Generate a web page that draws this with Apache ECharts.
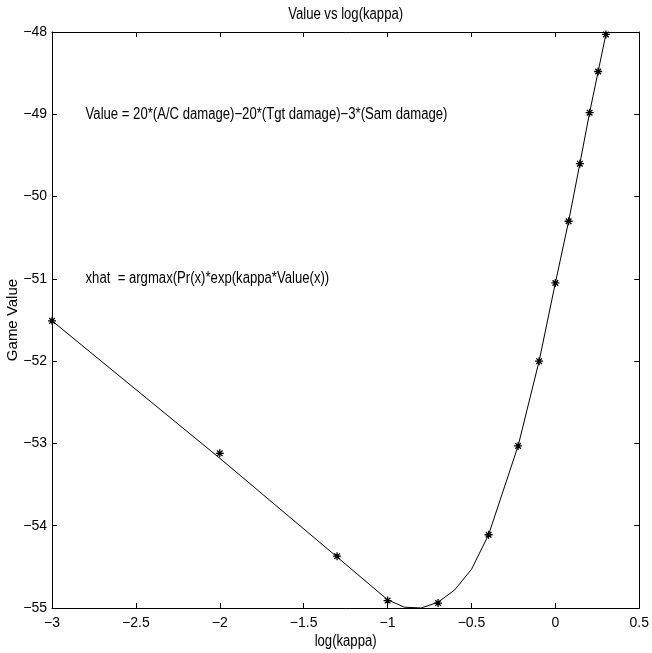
<!DOCTYPE html>
<html>
<head>
<meta charset="utf-8">
<script src="https://cdn.jsdelivr.net/npm/echarts@6/dist/echarts.min.js"></script>
<style>html,body{margin:0;padding:0;background:#fff;}#c{width:652px;height:653px;}</style>
</head>
<body>
<div id="c"></div>
<script>
// Marker points (log10(kappa), game value)
const markerX = [-3, -2, -1.301, -1, -0.699, -0.398, -0.222, -0.097, 0, 0.079, 0.146, 0.204, 0.255, 0.301];
const markerY = [-51.51, -53.12, -54.37, -54.91, -54.94, -54.11, -53.03, -52.00, -51.05, -50.30, -49.60, -48.98, -48.48, -48.03];
// Line vertices
const lineX = [-3, -2, -1.301, -1, -0.9, -0.8, -0.699, -0.6, -0.5, -0.398, -0.222, -0.097, 0, 0.079, 0.146, 0.204, 0.255, 0.301];
const lineY = [-51.51, -53.18, -54.38, -54.90, -54.99, -55.00, -54.93, -54.78, -54.53, -54.11, -53.03, -52.00, -51.05, -50.30, -49.60, -48.98, -48.48, -48.03];
const xTicks = [-3, -2.5, -2, -1.5, -1, -0.5, 0, 0.5];
const yTicks = [-55, -54, -53, -52, -51, -50, -49, -48];
const titleText = 'Value vs log(kappa)';
const xName = 'log(kappa)';
const yName = 'Game Value';
const notes = [
  {x: -2.8, y: -49, text: 'Value = 20*(A/C damage)\u221220*(Tgt damage)\u22123*(Sam damage)'},
  {x: -2.8, y: -51, text: 'xhat  = argmax(Pr(x)*exp(kappa*Value(x))'}
];

const FONT = "'Liberation Sans', Arial, sans-serif";
const NARROW = 0.82;   // emulate a condensed Helvetica
const BIG = 16;
const fmt = v => String(v).replace('-', '\u2212');

const chart = echarts.init(document.getElementById('c'), null, {renderer: 'canvas'});
const axisCommon = {
  type: 'value',
  axisLine: {show: true, onZero: false, lineStyle: {color: '#000', width: 1}},
  axisTick: {show: true, inside: true, length: 5, lineStyle: {color: '#000'}},
  splitLine: {show: false}
};
chart.setOption({
  animation: false,
  backgroundColor: '#fff',
  grid: {left: 52, right: 11, top: 32, bottom: 45, containLabel: false},
  xAxis: [
    Object.assign({}, axisCommon, {
      position: 'bottom', min: xTicks[0], max: xTicks[xTicks.length - 1], interval: 0.5,
      axisLabel: {color: '#000', fontFamily: FONT, fontSize: 14, margin: 8, formatter: fmt}
    }),
    Object.assign({}, axisCommon, {
      position: 'top', min: xTicks[0], max: xTicks[xTicks.length - 1], interval: 0.5,
      axisLabel: {show: false}
    })
  ],
  yAxis: [
    Object.assign({}, axisCommon, {
      position: 'left', min: yTicks[0], max: yTicks[yTicks.length - 1], interval: 1,
      axisLabel: {color: '#000', fontFamily: FONT, fontSize: 14, margin: 5, formatter: fmt}
    }),
    Object.assign({}, axisCommon, {
      position: 'right', min: yTicks[0], max: yTicks[yTicks.length - 1], interval: 1,
      axisLabel: {show: false}
    })
  ],
  series: [
    {
      type: 'line', xAxisIndex: 0, yAxisIndex: 0,
      data: lineX.map((x, i) => [x, lineY[i]]),
      showSymbol: false, symbol: 'none',
      lineStyle: {color: '#000', width: 1}
    },
    {
      type: 'scatter', xAxisIndex: 0, yAxisIndex: 0,
      data: markerX.map((x, i) => [x, markerY[i]]),
      symbol: 'path://M0,-10L0,10M-10,0L10,0M-7,-7L7,7M-7,7L7,-7',
      symbolSize: 8,
      itemStyle: {color: 'none', borderColor: '#000', borderWidth: 1.3, opacity: 1}
    }
  ]
});

function txt(x, y, text, align, rot) {
  return {
    type: 'text', x: x, y: y, rotation: rot || 0, scaleX: NARROW, scaleY: 1,
    style: {text: text, fill: '#000', font: BIG + 'px ' + FONT, textVerticalAlign: 'middle', textAlign: align}
  };
}
const r = chart.getModel().getComponent('grid').coordinateSystem.getRect();
const gfx = notes.map(n => {
  const p = chart.convertToPixel({xAxisIndex: 0, yAxisIndex: 0}, [n.x, n.y]);
  return txt(p[0], p[1], n.text, 'left');
});
gfx.push(txt(r.x + r.width / 2, 15, titleText, 'center'));
gfx.push(txt(r.x + r.width / 2, 642, xName, 'center'));
const yl = txt(13, r.y + r.height / 2, yName, 'center', Math.PI / 2);
yl.scaleX = 1; yl.scaleY = 1; yl.style.font = '15px ' + FONT;
gfx.push(yl);
chart.setOption({graphic: gfx});
</script>
</body>
</html>
